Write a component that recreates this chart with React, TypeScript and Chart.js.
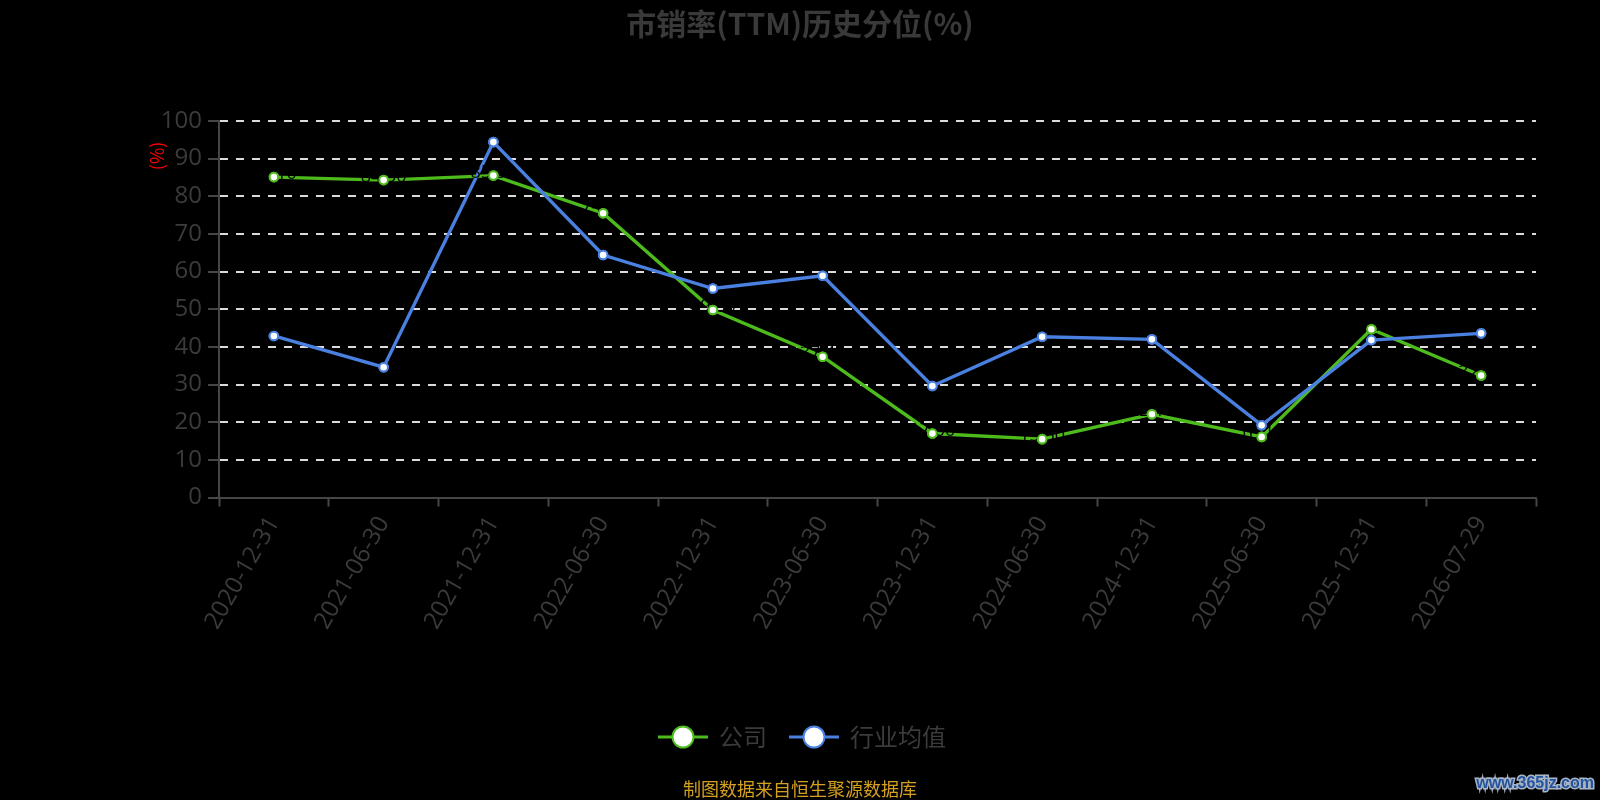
import { useEffect, useRef } from "react";
import { Chart, registerables } from "chart.js";

Chart.register(...registerables);

const titleText = "市销率(TTM)历史分位(%)";
const yAxisTitle = "(%)";
const footerText = "制图数据来自恒生聚源数据库";
const watermarkText = "www.365jz.com";

const categories = [
  "2020-12-31",
  "2021-06-30",
  "2021-12-31",
  "2022-06-30",
  "2022-12-31",
  "2023-06-30",
  "2023-12-31",
  "2024-06-30",
  "2024-12-31",
  "2025-06-30",
  "2025-12-31",
  "2026-07-29",
];

const companyLabel = "公司";
const companyValues = [85.1, 84.3, 85.5, 75.5, 49.8, 37.4, 17.0, 15.5, 22.1, 16.1, 44.7, 32.4];

const industryLabel = "行业均值";
const industryValues = [42.9, 34.6, 94.4, 64.4, 55.5, 58.9, 29.6, 42.7, 42.0, 19.2, 41.8, 43.6];

const yMin = 0;
const yMax = 100;
const yStep = 10;

const GREEN = "#4dbb1c";
const BLUE = "#4a80e0";
const TEXT_GRAY = "#3b3b3b";
const AXIS_GRAY = "#464646";
const LATIN = "'Open Sans', 'Noto Sans CJK SC', sans-serif";
const CJK = "'Noto Sans CJK SC', 'Open Sans', sans-serif";

const decorations = {
  id: "decorations",
  beforeDraw(chart: any) {
    const { ctx, width, height } = chart;
    ctx.save();
    ctx.fillStyle = "#000";
    ctx.fillRect(0, 0, width, height);
    ctx.restore();
  },
  afterDatasetsDraw(chart: any) {
    // value labels of the company series (black text, as in the original)
    const { ctx, chartArea } = chart;
    const meta = chart.getDatasetMeta(0);
    const ds = chart.data.datasets[0];
    ctx.save();
    ctx.font = `18px ${LATIN}`;
    ctx.fillStyle = "#000";
    ctx.textAlign = "center";
    ctx.textBaseline = "middle";
    meta.data.forEach((pt: any, i: number) => {
      ctx.fillText(Number(ds.data[i]).toFixed(2), pt.x, pt.y - 3);
    });
    ctx.restore();
    // keep the markers on top of the labels
    [0, 1].forEach((di) => {
      chart.getDatasetMeta(di).data.forEach((pt: any) => pt.draw(ctx, chartArea));
    });
  },
  afterDraw(chart: any) {
    const { ctx, width, chartArea } = chart;
    ctx.save();
    // title
    ctx.font = `bold 30px ${CJK}`;
    ctx.fillStyle = "#393939";
    ctx.textAlign = "center";
    ctx.textBaseline = "middle";
    ctx.fillText(titleText, width / 2, 24);

    // y axis title
    ctx.save();
    ctx.translate(chartArea.left - 62, chartArea.top + 35);
    ctx.rotate(-Math.PI / 2);
    ctx.font = `18px ${CJK}`;
    ctx.fillStyle = "#ff0000";
    ctx.textAlign = "center";
    ctx.textBaseline = "middle";
    ctx.fillText(yAxisTitle, 0, 0);
    ctx.restore();

    // legend
    const lineW = 50;
    const textGap = 11;
    const itemGap = 22;
    ctx.font = `24px ${CJK}`;
    const items = chart.data.datasets.map((d: any) => ({
      label: d.label,
      color: d.borderColor,
      w: lineW + textGap + ctx.measureText(d.label).width,
    }));
    const total = items.reduce((s: number, it: any) => s + it.w, 0) + itemGap * (items.length - 1);
    let x = width / 2 - total / 2 + 2;
    const ly = 737;
    items.forEach((it: any) => {
      ctx.strokeStyle = it.color;
      ctx.lineWidth = 3;
      ctx.beginPath();
      ctx.moveTo(x, ly);
      ctx.lineTo(x + lineW, ly);
      ctx.stroke();
      ctx.beginPath();
      ctx.arc(x + lineW / 2, ly, 10.5, 0, Math.PI * 2);
      ctx.fillStyle = "#fff";
      ctx.fill();
      ctx.lineWidth = 2;
      ctx.stroke();
      ctx.fillStyle = TEXT_GRAY;
      ctx.textAlign = "left";
      ctx.textBaseline = "middle";
      ctx.fillText(it.label, x + lineW + textGap, ly);
      x += it.w + itemGap;
    });

    // footer
    ctx.font = `18px ${CJK}`;
    ctx.fillStyle = "#d4a020";
    ctx.textAlign = "center";
    ctx.textBaseline = "middle";
    ctx.fillText(footerText, width / 2, 789);

    // watermark
    ctx.font = `bold 16px 'Liberation Sans', sans-serif`;
    ctx.textAlign = "right";
    ctx.textBaseline = "middle";
    ctx.lineWidth = 3;
    ctx.strokeStyle = "#a9b4c4";
    ctx.strokeText(watermarkText, 1594, 784);
    ctx.fillStyle = "#24549e";
    ctx.fillText(watermarkText, 1594, 784);
    ctx.restore();
  },
};

export default function App() {
  const canvasRef = useRef<HTMLCanvasElement | null>(null);

  useEffect(() => {
    document.body.style.margin = "0";
    document.body.style.background = "#000";
    const canvas = canvasRef.current;
    if (!canvas) return;
    const chart = new Chart(canvas, {
      type: "line",
      data: {
        labels: categories,
        datasets: [
          {
            label: companyLabel,
            data: companyValues,
            borderColor: GREEN,
            backgroundColor: GREEN,
            borderWidth: 3.4,
            pointRadius: 4.3,
            pointBorderWidth: 2,
            pointBackgroundColor: "#fff",
            pointBorderColor: GREEN,
            tension: 0,
            order: 1,
          },
          {
            label: industryLabel,
            data: industryValues,
            borderColor: BLUE,
            backgroundColor: BLUE,
            borderWidth: 3.4,
            pointRadius: 4.3,
            pointBorderWidth: 2,
            pointBackgroundColor: "#fff",
            pointBorderColor: BLUE,
            tension: 0,
            order: 0,
          },
        ],
      },
      options: {
        animation: false,
        responsive: true,
        maintainAspectRatio: false,
        devicePixelRatio: 1,
        layout: { padding: { top: 121, right: 64, bottom: 0, left: 0 } },
        plugins: {
          legend: { display: false },
          title: { display: false },
          tooltip: { enabled: false },
        },
        scales: {
          x: {
            type: "category",
            offset: true,
            grid: {
              offset: true,
              drawOnChartArea: false,
              drawTicks: true,
              tickLength: 9,
              tickColor: AXIS_GRAY,
              tickWidth: 2,
              color: AXIS_GRAY,
            },
            border: { display: true, color: AXIS_GRAY, width: 2 },
            ticks: {
              autoSkip: false,
              minRotation: 60,
              maxRotation: 60,
              color: TEXT_GRAY,
              padding: 5,
              font: { size: 24, family: LATIN },
            },
            afterFit: (scale: any) => {
              scale.height = 302.5;
            },
          },
          y: {
            min: yMin,
            max: yMax,
            grid: {
              color: "#dcdcdc",
              lineWidth: 2,
              drawTicks: true,
              tickLength: 11,
              tickColor: AXIS_GRAY,
              tickWidth: 2,
            },
            border: { display: true, color: AXIS_GRAY, width: 2, dash: [8, 8] },
            ticks: {
              stepSize: yStep,
              color: TEXT_GRAY,
              padding: 6,
              font: { size: 24, family: LATIN },
            },
            afterFit: (scale: any) => {
              scale.width = 219;
            },
          },
        },
      },
      plugins: [decorations],
    });
    return () => chart.destroy();
  }, []);

  return (
    <div style={{ width: 1600, height: 800, position: "relative", background: "#000" }}>
      <canvas ref={canvasRef} />
    </div>
  );
}
